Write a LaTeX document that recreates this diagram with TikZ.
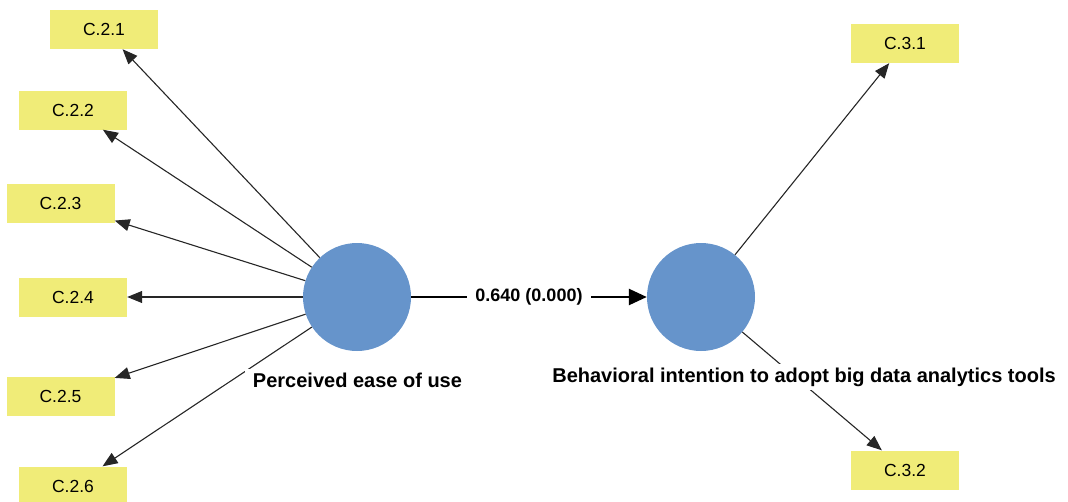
\documentclass[tikz,border=0pt]{standalone}
\usepackage{fontspec}
\setmainfont{Liberation Sans}
\usetikzlibrary{arrows.meta}
\definecolor{indyellow}{RGB}{240,236,120}
\definecolor{latentblue}{RGB}{102,148,203}
\begin{document}
\begin{tikzpicture}[x=1pt,y=-1pt,
  indicator/.style={fill=indyellow, minimum width=108pt, minimum height=39pt,
    inner sep=0pt, font=\fontsize{17.5}{20}\selectfont},
  latent/.style={circle, fill=latentblue, minimum size=108pt, inner sep=0pt},
  loading/.style={-{Triangle[length=15pt,width=12pt]}, line width=1.1pt, draw=black!85},
  structural/.style={-{Triangle[length=18pt,width=16pt]}, line width=2.6pt},
  lbl/.style={fill=white, font=\bfseries\fontsize{20}{22}\selectfont,
    inner xsep=8pt, inner ysep=4pt},
  coef/.style={fill=white, font=\bfseries\fontsize{18}{20}\selectfont,
    inner xsep=8pt, inner ysep=2pt}
]
\useasboundingbox (0,0) rectangle (1068,501);

% latent variables
\node[latent] (peou) at (357,297) {};
\node[latent] (bi) at (701,297) {};

% indicators
\node[indicator] (c21) at (104,29.5) {C.2.1};
\node[indicator] (c22) at (73,110) {C.2.2};
\node[indicator] (c23) at (60.5,203.5) {C.2.3};
\node[indicator] (c24) at (73,297) {C.2.4};
\node[indicator] (c25) at (60.5,396) {C.2.5};
\node[indicator] (c26) at (73,486) {C.2.6};
\node[indicator] (c31) at (905,43.5) {C.3.1};
\node[indicator] (c32) at (905,470) {C.3.2};

% outer loadings
\foreach \i in {c21,c22,c23,c24,c25,c26}
  \draw[loading] (peou) -- (\i);
\draw[loading] (bi) -- (c31);
\draw[loading] (bi) -- (c32);

% structural path
\draw[structural] (peou) -- node[coef] {0.640 (0.000)} (bi);

% construct names
\node[lbl] (peoulbl) at (357.5,380) {Perceived ease of use};
\node[lbl] (bilbl) at (804,377) {Behavioral intention to adopt big data analytics tools};
\end{tikzpicture}
\end{document}
